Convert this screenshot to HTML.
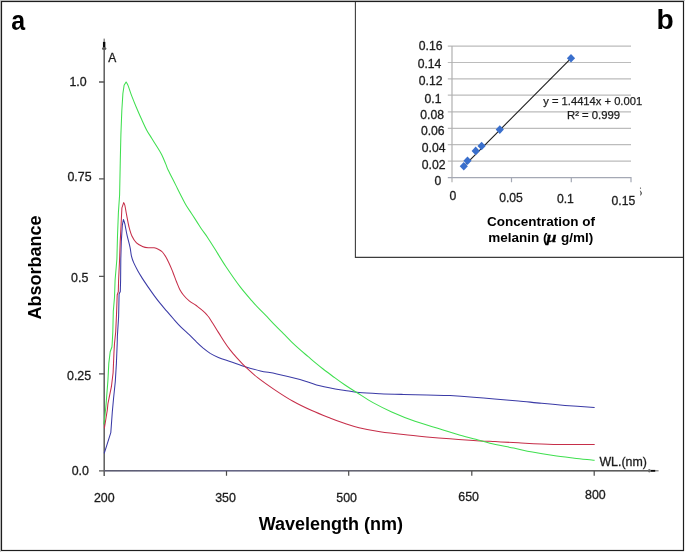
<!DOCTYPE html>
<html><head><meta charset="utf-8"><title>Figure</title>
<style>
html,body{margin:0;padding:0;background:#fff;}
svg{display:block;font-family:"Liberation Sans",sans-serif;}
</style></head><body>
<svg width="685" height="552" viewBox="0 0 685 552">
<rect x="0" y="0" width="685" height="552" fill="#fff"/>
<!-- outer light edge -->
<rect x="0" y="0" width="685" height="1" fill="#c8c8c8"/>
<rect x="0" y="0" width="1" height="552" fill="#c8c8c8"/>
<!-- outer border -->
<rect x="1.5" y="1.5" width="682" height="549" fill="none" stroke="#1e1e1e" stroke-width="1.2"/>
<!-- inset box -->
<path d="M355.4,2 V257.4 H683" fill="none" stroke="#3c3c3c" stroke-width="1.1"/>

<defs><linearGradient id="xg" x1="104" y1="0" x2="657" y2="0" gradientUnits="userSpaceOnUse"><stop offset="0" stop-color="#5c5c70"/><stop offset="0.2" stop-color="#666688"/><stop offset="0.45" stop-color="#666674"/><stop offset="0.7" stop-color="#5c5c5c"/><stop offset="1" stop-color="#5c5c5c"/></linearGradient></defs>
<g stroke="#5c5c5c" stroke-width="1.5" fill="none">
<path d="M104.2,42 V476"/>
</g>
<g stroke="#555" stroke-width="1.3" fill="none">
<path d="M99,82 H104.3 M99,178.9 H104.3 M99,276.3 H104.3 M99,373.9 H104.3 M99,470.8 H104.3"/>
</g>
<rect x="104.2" y="470.0" width="546" height="1.6" fill="url(#xg)"/>
<g stroke="#4a4a4a" stroke-width="1.2" fill="none"><path d="M226.5,471 V475.8 M348.7,471 V475.8 M471.8,471 V475.8 M594.2,471 V475.8"/></g>
<rect x="103.55" y="38.6" width="1.3" height="3.6" fill="#7a7a7a"/>
<rect x="102.95" y="41.9" width="2.4" height="5.6" fill="#0a0a0a"/>
<ellipse cx="104.2" cy="48.6" rx="2.3" ry="1.5" fill="#5a5a5a"/>
<rect x="655" y="470.2" width="3.6" height="1.2" fill="#7a7a7a"/>
<rect x="650.4" y="469.9" width="4.8" height="1.9" fill="#0a0a0a"/>
<ellipse cx="649.3" cy="470.8" rx="1.4" ry="1.8" fill="#6a6a6a"/>
<g fill="none" stroke-width="1.05" stroke-linejoin="round" stroke-linecap="round">
<path d="M104.3,453.0 L106.7,445.6 L110.8,432.7 L112.3,412.0 L113.5,399.0 L115.3,381.5 L116.4,363.4 L117.2,343.5 L117.4,335.6 L118.6,317.0 L119.1,294.0 L120.3,291.6 L120.6,280.0 L120.8,259.0 L121.3,241.7 L122.3,225.4 L123.4,219.5 C123.7,220.3 124.3,221.5 124.9,224.2 C125.5,226.9 126.3,232.0 127.2,235.9 C128.1,239.8 129.4,244.3 130.1,247.6 C130.8,250.9 130.8,253.2 131.4,255.8 C132.0,258.4 132.7,260.4 133.8,262.9 C134.9,265.4 136.5,268.4 137.9,271.0 C139.3,273.6 140.8,275.9 142.5,278.6 C144.2,281.3 146.5,284.6 148.4,287.4 C150.3,290.2 152.3,293.0 154.2,295.6 C156.1,298.2 157.9,300.6 160.0,303.2 C162.1,305.8 164.7,308.7 167.0,311.4 C169.3,314.1 171.7,316.9 174.0,319.5 C176.3,322.1 178.5,324.6 181.0,327.1 C183.5,329.6 186.7,332.3 189.2,334.7 C191.7,337.1 193.9,339.4 196.2,341.7 C198.5,343.9 200.9,346.2 203.2,348.2 C205.5,350.1 207.7,351.8 210.2,353.4 C212.7,354.9 215.1,356.1 218.4,357.5 C221.7,358.9 225.5,360.0 230.0,361.5 C234.5,363.0 240.1,365.1 245.2,366.7 C250.3,368.3 255.1,369.7 260.4,370.9 C265.7,372.1 270.2,372.5 276.8,373.9 C283.4,375.3 293.4,377.7 300.0,379.5 C306.6,381.3 310.6,383.3 316.5,384.9 C322.4,386.5 330.4,388.0 335.2,388.9 C339.9,389.8 341.0,389.8 345.0,390.4 C349.0,391.0 353.2,391.9 359.0,392.5 C364.8,393.1 372.6,393.4 380.0,393.7 C387.4,394.0 395.6,394.2 403.4,394.4 C411.2,394.6 419.0,394.9 426.8,395.1 C434.6,395.3 442.2,395.2 450.0,395.6 C457.8,396.0 466.1,396.6 473.5,397.2 C480.9,397.8 487.0,398.4 494.5,399.0 C502.0,399.6 510.5,400.2 518.4,400.9 C526.3,401.6 533.9,402.6 541.7,403.3 C549.5,404.1 556.2,404.7 565.0,405.4 C573.8,406.1 589.4,407.1 594.3,407.5" stroke="#3a3aa6"/>
<path d="M104.4,428.0 L107.3,410.0 L107.9,404.0 L109.0,398.4 L111.4,386.7 L113.1,372.7 L113.5,363.4 L114.0,351.7 L114.5,343.5 L115.7,332.0 L116.5,314.8 L117.2,295.0 L118.3,291.6 L118.6,280.0 L119.6,259.0 L120.2,241.7 L121.1,224.2 L121.9,207.9 L123.7,202.6 C123.9,203.1 124.4,203.4 124.9,205.5 C125.4,207.6 125.9,211.4 126.6,214.9 C127.3,218.4 128.0,223.0 128.9,226.5 C129.8,230.0 130.6,233.2 131.9,235.9 C133.2,238.6 134.8,241.2 136.5,242.9 C138.2,244.7 140.5,245.6 142.4,246.4 C144.3,247.2 146.2,247.6 148.2,247.8 C150.1,248.0 152.3,247.5 154.1,247.8 C155.8,248.1 157.3,248.8 158.7,249.5 C160.1,250.2 161.2,250.8 162.4,252.0 C163.6,253.2 164.7,255.0 165.9,257.0 C167.1,259.0 168.2,261.5 169.4,264.0 C170.6,266.5 171.7,269.3 172.9,272.2 C174.1,275.1 175.2,278.6 176.4,281.5 C177.6,284.4 178.7,287.4 179.9,289.7 C181.1,291.9 181.9,293.1 183.4,295.0 C184.9,296.9 187.1,299.1 189.2,300.8 C191.3,302.6 194.0,303.9 196.2,305.5 C198.3,307.1 200.1,308.4 202.1,310.2 C204.1,311.9 206.2,313.9 207.9,316.0 C209.7,318.1 210.8,320.3 212.6,323.0 C214.3,325.7 216.4,329.3 218.4,332.4 C220.4,335.5 222.4,338.8 224.3,341.7 C226.2,344.6 228.0,347.2 230.1,349.9 C232.2,352.6 234.6,355.3 237.1,358.1 C239.6,360.9 241.7,363.4 245.2,366.7 C248.7,370.0 253.1,374.1 258.0,377.9 C262.9,381.7 268.6,385.7 274.4,389.6 C280.2,393.5 286.8,397.8 293.0,401.3 C299.2,404.8 305.6,407.8 311.8,410.6 C318.1,413.4 325.0,416.1 330.5,418.3 C336.0,420.5 340.2,422.0 345.0,423.6 C349.8,425.2 353.2,426.4 359.0,427.8 C364.8,429.2 372.6,430.7 380.0,431.8 C387.4,432.9 395.6,433.8 403.4,434.6 C411.2,435.5 419.0,436.2 426.8,436.9 C434.6,437.6 442.2,438.2 450.0,438.8 C457.8,439.4 466.0,439.9 473.5,440.4 C481.0,440.9 487.5,441.2 495.0,441.6 C502.5,442.0 508.7,442.3 518.4,442.8 C528.1,443.3 540.8,444.1 553.4,444.4 C566.0,444.7 587.5,444.4 594.3,444.4" stroke="#c62e49"/>
<path d="M103.9,424.0 L104.6,418.8 L106.1,404.0 L106.7,396.0 L107.9,380.9 L108.8,363.4 L110.2,351.7 L111.9,347.0 L112.2,343.5 L112.8,332.2 L113.3,311.3 L114.5,297.4 L115.1,280.0 L116.9,259.0 L117.5,235.9 L118.4,212.5 L119.6,195.0 L120.3,160.0 L120.9,134.4 L121.8,111.0 L122.9,93.5 L124.1,85.3 L126.1,82.0 C126.4,82.7 127.3,83.6 128.2,85.9 C129.1,88.2 130.3,92.3 131.7,95.9 C133.1,99.5 134.8,103.8 136.4,107.5 C138.0,111.2 139.3,114.3 141.0,118.0 C142.7,121.7 144.8,126.5 146.6,129.9 C148.4,133.3 149.9,135.3 151.7,138.2 C153.5,141.1 155.8,144.8 157.5,147.5 C159.2,150.2 160.2,151.8 161.6,154.5 C163.0,157.2 164.6,161.4 165.7,163.9 C166.8,166.4 166.8,167.2 168.0,169.7 C169.2,172.2 171.1,175.9 172.7,179.0 C174.3,182.1 175.9,185.4 177.4,188.4 C178.9,191.4 180.2,194.0 181.7,196.9 C183.2,199.8 184.8,203.1 186.4,205.7 C188.0,208.3 189.3,210.2 191.0,212.7 C192.7,215.2 194.6,218.2 196.3,220.9 C198.1,223.6 199.7,226.3 201.5,229.0 C203.3,231.7 205.3,234.0 207.4,237.2 C209.5,240.4 211.2,243.1 214.3,248.0 C217.4,252.9 221.7,260.3 226.0,266.7 C230.3,273.1 235.7,281.0 240.0,286.6 C244.3,292.2 248.4,296.8 251.7,300.6 C255.0,304.5 257.4,307.0 260.0,309.7 C262.6,312.4 264.5,314.1 267.0,316.7 C269.5,319.3 272.5,322.6 275.2,325.4 C277.9,328.2 280.7,330.9 283.4,333.6 C286.1,336.3 288.8,339.2 291.5,341.8 C294.2,344.4 297.0,347.0 299.7,349.4 C302.4,351.8 305.2,354.1 307.9,356.4 C310.6,358.7 313.6,361.3 316.1,363.4 C318.6,365.5 320.0,366.6 323.1,369.0 C326.2,371.4 331.4,375.2 335.0,377.9 C338.6,380.6 341.4,382.6 345.0,385.0 C348.6,387.4 352.0,389.6 356.7,392.5 C361.4,395.4 367.2,399.4 373.0,402.6 C378.8,405.8 384.7,408.8 391.7,411.9 C398.7,415.0 407.2,418.5 415.0,421.3 C422.8,424.1 431.5,426.4 438.5,428.5 C445.5,430.6 450.8,432.4 457.0,434.2 C463.2,436.0 470.3,437.8 475.8,439.3 C481.3,440.8 483.6,441.7 489.9,443.2 C496.2,444.7 506.6,446.6 513.7,448.1 C520.8,449.6 525.8,450.9 532.4,452.1 C539.0,453.4 546.4,454.6 553.4,455.6 C560.4,456.6 567.6,457.4 574.4,458.2 C581.2,459.0 591.0,459.9 594.3,460.3" stroke="#3fdf4f"/>
</g>
<g fill="#1c1c1c" stroke="#1c1c1c" stroke-width="0.3" font-size="12.4px">
<text x="108.2" y="61.8" font-size="12px">A</text>
<text x="78.0" y="85.8" text-anchor="middle">1.0</text>
<text x="79.5" y="181.3" text-anchor="middle">0.75</text>
<text x="79.7" y="281.9" text-anchor="middle">0.5</text>
<text x="79.1" y="379.6" text-anchor="middle">0.25</text>
<text x="80.3" y="474.8" text-anchor="middle">0.0</text>
<text x="104.3" y="501.8" text-anchor="middle">200</text>
<text x="225.5" y="501.6" text-anchor="middle">350</text>
<text x="346.6" y="501.6" text-anchor="middle">500</text>
<text x="468.6" y="500.6" text-anchor="middle">650</text>
<text x="595.4" y="499" text-anchor="middle">800</text>
<text x="599.4" y="466">WL.(nm)</text>
</g>
<g fill="#000" font-weight="bold">
<text transform="translate(11.2,29.5) scale(0.89,1)" font-size="28px">a</text>
<text transform="translate(656.4,29.3) scale(1.03,1)" font-size="27.4px">b</text>
<text transform="translate(41.1,267.6) rotate(-90)" text-anchor="middle" font-size="18px">Absorbance</text>
<text x="330.8" y="529.5" text-anchor="middle" font-size="18px">Wavelength (nm)</text>
<text x="541" y="225.8" text-anchor="middle" font-size="13.5px">Concentration of</text>
<text x="488.3" y="241.9" font-size="13.5px">melanin (</text>
<text transform="translate(546.6,241.9) scale(1.3,1)" font-size="14px" font-style="italic" font-family="Liberation Serif,serif" stroke="#000" stroke-width="0.25">μ</text>
<text x="561.1" y="241.9" font-size="13.5px">g/ml)</text>
</g>
<g stroke="#bcbcbc" stroke-width="1.2" fill="none">
<path d="M447.8,46.1 H631 M447.8,62.5 H631 M447.8,78.8 H631 M447.8,95.2 H631 M447.8,111.8 H631 M447.8,128.3 H631 M447.8,144.7 H631 M447.8,161.1 H631"/>
</g>
<g stroke="#b0b0b0" stroke-width="1.2" fill="none">
<path d="M452,46 V182.2"/>
</g>
<g stroke="#a4a8b4" stroke-width="1.2" fill="none">
<path d="M447.8,177.6 H631.6 M511.5,177.6 V182.2 M571.3,177.6 V182.2 M631,177.6 V182.2"/>
</g>
<path d="M463.2,166.8 L571.2,58.1" stroke="#1a1a1a" stroke-width="1.1" fill="none"/>
<path d="M463.8,161.9 L467.90000000000003,166.2 L463.8,170.49999999999997 L459.7,166.2 Z" fill="#3a6fcc"/>
<path d="M467.5,156.50000000000003 L471.6,160.8 L467.5,165.1 L463.4,160.8 Z" fill="#3a6fcc"/>
<path d="M475.7,146.60000000000002 L479.8,150.9 L475.7,155.2 L471.59999999999997,150.9 Z" fill="#3a6fcc"/>
<path d="M481.6,141.70000000000002 L485.70000000000005,146 L481.6,150.29999999999998 L477.5,146 Z" fill="#3a6fcc"/>
<path d="M499.8,125.3 L503.90000000000003,129.6 L499.8,133.89999999999998 L495.7,129.6 Z" fill="#3a6fcc"/>
<path d="M571,53.99999999999999 L575.1,58.3 L571,62.6 L566.9,58.3 Z" fill="#3a6fcc"/>
<g fill="#1c1c1c" stroke="#1c1c1c" stroke-width="0.3" font-size="12.2px" text-anchor="middle">
<text x="430.7" y="50.1">0.16</text>
<text x="429.5" y="68.2">0.14</text>
<text x="430.7" y="84.9">0.12</text>
<text x="433.0" y="102.60000000000001">0.1</text>
<text x="432.1" y="118.5">0.08</text>
<text x="432.8" y="135.0">0.06</text>
<text x="433.6" y="151.70000000000002">0.04</text>
<text x="433.6" y="168.8">0.02</text>
<text x="437.9" y="185.1">0</text>
<text x="453" y="200.0">0</text>
<text x="511" y="201.8">0.05</text>
<text x="565.4" y="203.4">0.1</text>
<text x="623.4" y="205.0">0.15</text>
</g>
<g fill="#1c1c1c" stroke="#1c1c1c" stroke-width="0.25" text-anchor="middle">
<text x="592.7" y="105.2" font-size="11.2px">y = 1.4414x + 0.001</text>
<text x="593.6" y="118.9" font-size="11.3px">R² = 0.999</text>
</g>
<path d="M639.8,190.2 Q643.6,193 640.2,196 Q641.5,193 639.8,190.2 Z" fill="#222"/><circle cx="640.5" cy="188.1" r="0.6" fill="#333"/>
</svg></body></html>
